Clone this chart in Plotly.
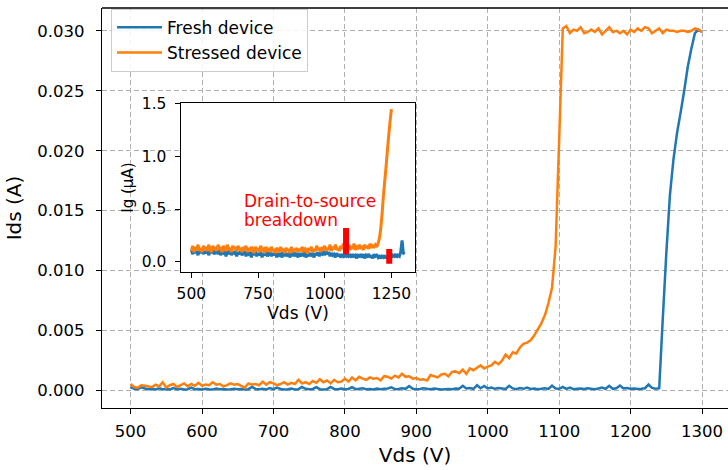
import plotly.graph_objects as go

# ---------------- Main sweep: drain current vs drain voltage ----------------
vds_main = list(range(500, 1305, 5))  # V

# Fresh device, Ids in mA
ids_fresh_ma = [
    0.30, 0.15, 0.12, 0.28, 0.18, 0.12, 0.15, 0.10, 0.20, 0.12, 0.14, 0.10, 0.22, 0.12, 0.15, 0.10, 0.12, 0.25, 0.12, 0.14,
    0.10, 0.16, 0.12, 0.10, 0.18, 0.12, 0.14, 0.10, 0.12, 0.15, 0.11, 0.13, 0.10, 0.12, 0.30, 0.14, 0.12, 0.16, 0.10, 0.22,
    0.12, 0.25, 0.14, 0.10, 0.12, 0.18, 0.10, 0.12, 0.30, 0.15, 0.12, 0.14, 0.28, 0.12, 0.10, 0.12, 0.30, 0.14, 0.12, 0.18,
    0.12, 0.14, 0.28, 0.12, 0.15, 0.20, 0.12, 0.14, 0.10, 0.18, 0.12, 0.15, 0.18, 0.28, 0.12, 0.14, 0.20, 0.15, 0.38, 0.16,
    0.12, 0.14, 0.20, 0.15, 0.12, 0.18, 0.14, 0.10, 0.12, 0.14, 0.12, 0.18, 0.15, 0.40, 0.18, 0.22, 0.15, 0.45, 0.20, 0.38,
    0.18, 0.25, 0.15, 0.22, 0.18, 0.14, 0.40, 0.18, 0.12, 0.22, 0.15, 0.25, 0.14, 0.18, 0.12, 0.15, 0.20, 0.14, 0.42, 0.18,
    0.15, 0.30, 0.14, 0.25, 0.12, 0.15, 0.18, 0.14, 0.20, 0.15, 0.12, 0.18, 0.25, 0.15, 0.40, 0.15, 0.20, 0.42, 0.18, 0.22,
    0.15, 0.18, 0.14, 0.15, 0.20, 0.50, 0.22, 0.15, 0.20, 6.0, 11.5, 16.3, 19.3, 21.5, 23.2, 25.0, 27.0, 28.5, 29.8, 30.1,
    29.9,
]

# Stressed device, Ids in mA
ids_stressed_ma = [
    0.55, 0.30, 0.25, 0.45, 0.40, 0.35, 0.30, 0.50, 0.35, 0.70, 0.25, 0.45, 0.55, 0.30, 0.45, 0.60, 0.35, 0.55, 0.40, 0.65,
    0.40, 0.50, 0.45, 0.70, 0.50, 0.55, 0.35, 0.45, 0.60, 0.50, 0.55, 0.40, 0.25, 0.60, 0.50, 0.55, 0.45, 0.75, 0.50, 0.70,
    0.60, 0.45, 0.55, 0.70, 0.50, 0.65, 0.55, 0.90, 0.60, 0.70, 0.55, 0.80, 0.65, 0.95, 0.70, 0.85, 0.60, 0.90, 0.70, 0.75,
    1.00, 0.75, 1.10, 0.85, 1.15, 1.00, 0.90, 1.10, 1.00, 1.05, 0.85, 1.20, 1.15, 1.00, 1.25, 1.10, 1.40, 1.15, 1.20, 1.00,
    1.05, 0.90, 0.95, 0.85, 1.30, 1.20, 1.10, 1.35, 1.40, 1.20, 1.55, 1.60, 1.45, 1.75, 1.40, 1.85, 1.70, 1.90, 2.10, 1.85,
    2.00, 2.10, 2.40, 2.20, 2.50, 3.00, 2.70, 3.20, 3.10, 3.60, 3.90, 4.00, 4.20, 4.60, 5.10, 5.60, 6.30, 7.30, 8.60, 12.0,
    21.0, 30.2, 30.4, 29.8, 30.1, 30.0, 30.3, 29.8, 29.9, 30.1, 29.9, 30.2, 29.7, 30.0, 30.3, 29.9, 30.0, 29.8, 30.0, 29.7,
    30.1, 29.9, 30.2, 30.0, 30.3, 30.2, 29.8, 30.0, 30.2, 29.8, 30.1, 30.0, 30.0, 29.9, 30.0, 30.0, 29.9, 30.0, 30.2, 30.1,
    29.9,
]

ids_fresh = [v * 1e-3 for v in ids_fresh_ma]        # A
ids_stressed = [v * 1e-3 for v in ids_stressed_ma]  # A

# ---------------- Inset: gate leakage current ----------------
vds_inset_fresh = list(range(500, 1305, 5))
vds_inset_stressed = list(range(500, 1255, 5))

ig_fresh_ua = [
    0.11, 0.07, 0.12, 0.08, 0.10, 0.06, 0.11, 0.08, 0.12, 0.07, 0.10, 0.08, 0.11, 0.06, 0.10, 0.08, 0.12, 0.07, 0.09, 0.10,
    0.07, 0.11, 0.06, 0.10, 0.08, 0.09, 0.05, 0.10, 0.07, 0.11, 0.06, 0.09, 0.08, 0.10, 0.05, 0.09, 0.07, 0.10, 0.06, 0.08,
    0.10, 0.05, 0.09, 0.07, 0.08, 0.04, 0.09, 0.06, 0.10, 0.05, 0.08, 0.06, 0.09, 0.04, 0.08, 0.06, 0.10, 0.05, 0.07, 0.09,
    0.05, 0.08, 0.06, 0.09, 0.04, 0.08, 0.06, 0.07, 0.04, 0.09, 0.05, 0.08, 0.06, 0.07, 0.04, 0.08, 0.05, 0.09, 0.06, 0.07,
    0.04, 0.08, 0.05, 0.07, 0.06, 0.09, 0.04, 0.07, 0.05, 0.08, 0.06, 0.07, 0.04, 0.08, 0.06, 0.09, 0.05, 0.08, 0.07, 0.10,
    0.06, 0.10, 0.07, 0.09, 0.05, 0.08, 0.06, 0.07, 0.04, 0.08, 0.05, 0.07, 0.04, 0.06, 0.05, 0.08, 0.04, 0.07, 0.05, 0.06,
    0.04, 0.07, 0.05, 0.06, 0.03, 0.07, 0.05, 0.06, 0.04, 0.07, 0.03, 0.06, 0.05, 0.07, 0.04, 0.06, 0.03, 0.07, 0.05, 0.06,
    0.04, 0.06, 0.03, 0.05, 0.04, 0.06, 0.03, 0.05, 0.02, 0.05, 0.04, 0.06, 0.05, 0.07, 0.04, 0.06, 0.05, 0.09, 0.20, 0.08,
    0.07,
]

ig_stressed_ua = [
    0.10, 0.15, 0.09, 0.14, 0.11, 0.16, 0.10, 0.13, 0.09, 0.15, 0.11, 0.14, 0.10, 0.16, 0.12, 0.09, 0.15, 0.11, 0.14, 0.10,
    0.16, 0.11, 0.14, 0.09, 0.15, 0.12, 0.10, 0.16, 0.11, 0.13, 0.09, 0.15, 0.12, 0.14, 0.10, 0.15, 0.11, 0.13, 0.09, 0.14,
    0.11, 0.15, 0.09, 0.13, 0.10, 0.14, 0.12, 0.08, 0.14, 0.10, 0.13, 0.09, 0.15, 0.11, 0.12, 0.08, 0.14, 0.10, 0.13, 0.09,
    0.14, 0.10, 0.12, 0.08, 0.13, 0.11, 0.09, 0.14, 0.10, 0.12, 0.08, 0.13, 0.10, 0.12, 0.08, 0.14, 0.09, 0.12, 0.10, 0.13,
    0.09, 0.12, 0.10, 0.14, 0.09, 0.13, 0.11, 0.08, 0.13, 0.10, 0.14, 0.09, 0.12, 0.10, 0.15, 0.11, 0.13, 0.09, 0.14, 0.11,
    0.15, 0.10, 0.13, 0.11, 0.16, 0.10, 0.14, 0.12, 0.16, 0.11, 0.13, 0.10, 0.15, 0.12, 0.17, 0.11, 0.14, 0.12, 0.16, 0.11,
    0.15, 0.12, 0.17, 0.11, 0.14, 0.13, 0.16, 0.12, 0.15, 0.11, 0.16, 0.13, 0.15, 0.12, 0.17, 0.13, 0.15, 0.14, 0.16, 0.14,
    0.17, 0.22, 0.31, 0.45, 0.62, 0.76, 0.90, 1.05, 1.20, 1.33, 1.45,
]

# Breakdown markers in the inset (Vds position, Ig span in uA)
breakdown_vds = [1080, 1242]
breakdown_ig_low = [0.07, -0.02]
breakdown_ig_high = [0.32, 0.12]

BLUE = "#1f77b4"
ORANGE = "#ff7f0e"
FONT = "DejaVu Sans"

fig = go.Figure()

fig.add_trace(go.Scatter(x=vds_main, y=ids_fresh, mode="lines", name="Fresh device",
                         line=dict(color=BLUE, width=2.5, simplify=False), xaxis="x", yaxis="y"))
fig.add_trace(go.Scatter(x=vds_main, y=ids_stressed, mode="lines", name="Stressed device",
                         line=dict(color=ORANGE, width=2.5, simplify=False), xaxis="x", yaxis="y"))

fig.add_trace(go.Scatter(x=vds_inset_fresh, y=ig_fresh_ua, mode="lines", showlegend=False,
                         line=dict(color=BLUE, width=3, simplify=False), xaxis="x2", yaxis="y2"))
fig.add_trace(go.Scatter(x=vds_inset_stressed, y=ig_stressed_ua, mode="lines", showlegend=False,
                         line=dict(color=ORANGE, width=3, simplify=False), xaxis="x2", yaxis="y2"))

for v, lo, hi in zip(breakdown_vds, breakdown_ig_low, breakdown_ig_high):
    fig.add_trace(go.Scatter(x=[v, v], y=[lo, hi], mode="lines", showlegend=False,
                             line=dict(color="#ff0000", width=6), xaxis="x2", yaxis="y2"))

grid = dict(showgrid=True, gridcolor="#b0b0b0", gridwidth=1.2, griddash="5px,3px")
axis_common = dict(showline=True, linecolor="black", linewidth=1.3, ticks="outside",
                   ticklen=5, tickwidth=1.3, tickcolor="black", zeroline=False)
main_tickfont = dict(family=FONT, size=16.5, color="black")
inset_tickfont = dict(family=FONT, size=15.5, color="black")

fig.update_layout(
    width=728, height=470,
    margin=dict(l=102, r=0, t=3, b=62),
    paper_bgcolor="white", plot_bgcolor="white",
    font=dict(family=FONT, color="black"),
    showlegend=True,
    legend=dict(x=0.0144, y=0.998, xanchor="left", yanchor="top",
                bgcolor="rgba(255,255,255,0.85)", bordercolor="#cccccc", borderwidth=1,
                font=dict(family=FONT, size=17, color="black"),
                tracegroupgap=0, itemwidth=45),
    xaxis=dict(domain=[0, 1], range=[460, 1336.3], tickvals=list(range(500, 1400, 100)),
               title=dict(text="Vds (V)", font=dict(family=FONT, size=20, color="black"), standoff=8),
               ticklabelstandoff=3, tickfont=main_tickfont, **grid, **axis_common),
    yaxis=dict(domain=[0, 1], range=[-0.00145, 0.0319],
               tickvals=[0, 0.005, 0.01, 0.015, 0.02, 0.025, 0.03], tickformat=".3f",
               title=dict(text="Ids (A)", font=dict(family=FONT, size=20, color="black"), standoff=10),
               ticklabelstandoff=8, tickfont=main_tickfont, **grid, **axis_common),
    xaxis2=dict(domain=[0.1257, 0.5006], range=[460, 1340], anchor="y2",
                tickvals=[500, 750, 1000, 1250], mirror=True, showgrid=False,
                title=dict(text="Vds (V)", font=dict(family=FONT, size=17, color="black"), standoff=4),
                ticklabelstandoff=2, tickfont=inset_tickfont, **axis_common),
    yaxis2=dict(domain=[0.340, 0.762], range=[-0.0996, 1.507], anchor="x2",
                tickvals=[0, 0.5, 1.0, 1.5], tickformat=".1f", mirror=True, showgrid=False,
                title=dict(text="Ig (μA)", font=dict(family=FONT, size=15, color="black"), standoff=4),
                ticklabelstandoff=5, tickfont=inset_tickfont, **axis_common),
    shapes=[
        # white backing for the inset panel, covering the main grid
        dict(type="rect", xref="x2", yref="y2", x0=460, x1=1340, y0=-0.0996, y1=1.507,
             fillcolor="white", line=dict(width=0), layer="below"),
        # top spine of the main axes
        dict(type="line", xref="paper", yref="paper", x0=0, x1=1, y0=1, y1=1,
             line=dict(color="black", width=1.3), layer="above"),
    ],
    annotations=[
        dict(x=690, y=0.58, xref="x2", yref="y2", text="Drain-to-source", showarrow=False,
             xanchor="left", yanchor="middle", font=dict(family=FONT, size=17, color="#ff0000")),
        dict(x=690, y=0.40, xref="x2", yref="y2", text="breakdown", showarrow=False,
             xanchor="left", yanchor="middle", font=dict(family=FONT, size=17, color="#ff0000")),
    ],
)

fig.write_html("out.html")
